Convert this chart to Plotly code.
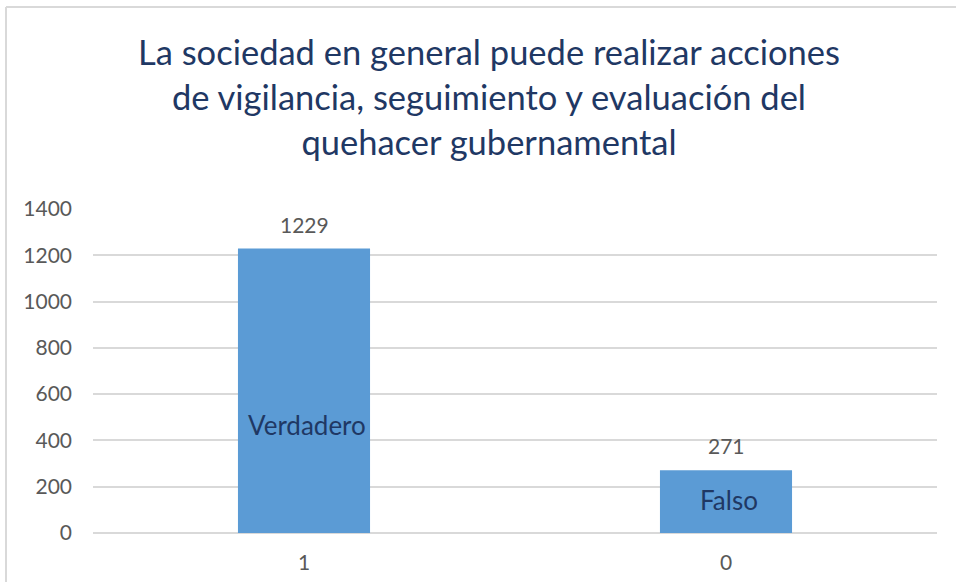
import plotly.graph_objects as go

categories = ["1", "0"]
values = [1229, 271]
series_labels = ["Verdadero", "Falso"]
label_values = [466, 142]
title_text = ("La sociedad en general puede realizar acciones<br>"
              "de vigilancia, seguimiento y evaluación del<br>"
              "quehacer gubernamental")
tick_vals = [0, 200, 400, 600, 800, 1000, 1200, 1400]

FONT = "Lato, Carlito, Calibri, sans-serif"
GRID = "#d9d9d9"
BAR = "#5b9bd5"
DARK = "#1f3864"
GRAY = "#595959"

fig = go.Figure()
fig.add_trace(go.Bar(
    x=categories, y=values, width=0.313,
    marker=dict(color=BAR, line=dict(width=0)),
    hoverinfo="skip",
))

for i, (v, lab, ly) in enumerate(zip(values, series_labels, label_values)):
    fig.add_annotation(x=i, y=ly, text=lab, showarrow=False,
                       xref="x", yref="y", xshift=3,
                       font=dict(family=FONT, size=26, color=DARK))
    fig.add_annotation(x=i, y=v, text=str(v), showarrow=False,
                       xref="x", yref="y", yanchor="bottom", yshift=10,
                       font=dict(family=FONT, size=21, color=GRAY))

L, R, T, B = 93, 19, 209, 49
W, H = 956, 582
pw, ph = W - L - R, H - T - B
px = (6 - L) / pw
py = (H - B - 7) / ph
fig.add_shape(type="line", xref="paper", yref="paper", x0=px, x1=1.1, y0=py, y1=py,
              line=dict(color=GRID, width=2))
fig.add_shape(type="line", xref="paper", yref="paper", x0=px, x1=px, y0=py, y1=-0.2,
              line=dict(color=GRID, width=2))

fig.update_layout(
    width=W, height=H,
    margin=dict(l=L, r=R, t=T, b=B),
    paper_bgcolor="white", plot_bgcolor="white",
    showlegend=False,
    title=dict(text=title_text, x=(489 - L) / pw, xref="paper", xanchor="center",
               y=1 - 65 / H, yref="container", yanchor="middle",
               font=dict(family=FONT, size=34.5, color=DARK)),
    xaxis=dict(type="category", showgrid=False, showline=False, zeroline=False, ticks="",
               automargin=False,
               tickfont=dict(family=FONT, size=21, color=GRAY), ticklabelstandoff=15),
    yaxis=dict(range=[0, 1400], tickvals=tick_vals, showgrid=True, gridcolor=GRID,
               gridwidth=1.5, zeroline=True, zerolinecolor=GRID, zerolinewidth=1.5,
               showline=False, ticks="", ticklabelstandoff=20, automargin=False,
               tickfont=dict(family=FONT, size=21, color=GRAY)),
)

fig.write_html("out.html", config={"displayModeBar": False},
               post_script="document.body.style.margin='0';document.body.style.overflow='hidden';")
